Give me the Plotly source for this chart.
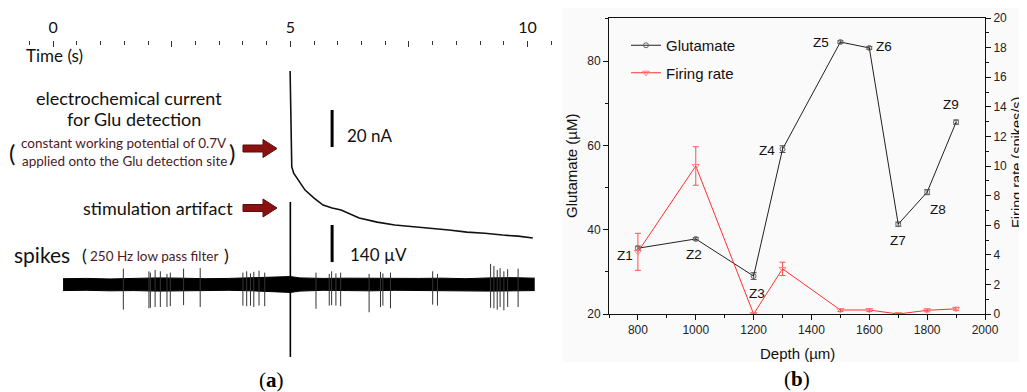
import plotly.graph_objects as go

W, H = 1027, 392
OFF = 8  # page body margin: figure is drawn 8 px right/down in the window
def px(x): return (x - OFF) / W
def py(y): return 1 - (y - OFF) / H

# ---------------- panel (a) data ----------------
# electrochemical current (relative, nA) after stimulation
current_t = [4.995, 5.01, 5.03, 5.07, 5.20, 5.31, 5.50, 5.69, 5.88, 6.07, 6.45, 6.83, 7.20, 7.58, 7.96, 8.34, 8.72, 9.10, 9.47, 9.80, 10.11]
current_nA = [90.3, 53.0, 38.4, 35.1, 29.7, 25.9, 21.6, 17.8, 16.2, 15.1, 10.8, 8.6, 7.0, 6.2, 5.4, 4.3, 3.2, 2.6, 1.6, 1.0, 0.0]

# spike recording: noise envelope (µV)
noise_t = [0.21, 0.7, 1.2, 1.7, 2.2, 2.7, 3.2, 3.7, 4.2, 4.7, 5.0, 5.2, 5.7, 6.2, 6.7, 7.2, 7.7, 8.2, 8.7, 9.2, 9.7, 10.15]
noise_hi = [22, 23, 21, 24, 25, 24, 22, 23, 26, 27, 30, 25, 23, 24, 23, 22, 23, 24, 22, 25, 26, 24]
noise_lo = [-23, -22, -24, -23, -25, -24, -23, -22, -24, -26, -30, -25, -22, -23, -24, -22, -23, -22, -24, -25, -24, -23]

# individual spikes: time (s), positive and negative peak (µV)
spike_t = [1.48, 2.02, 2.05, 2.15, 2.26, 2.40, 2.47, 2.75, 3.10, 4.00, 4.08, 4.16, 4.23, 4.34, 4.46,
           5.54, 5.82, 5.87, 5.96, 6.06, 6.66, 6.90, 6.95, 7.11, 8.00, 8.10,
           9.22, 9.29, 9.36, 9.42, 9.50, 9.58, 9.80]
spike_up = [60, 50, 45, 55, 50, 40, 45, 60, 62, 45, 50, 42, 48, 52, 45,
            45, 40, 50, 42, 45, 40, 48, 42, 45, 50, 40,
            78, 70, 55, 62, 50, 58, 60]
spike_dn = [-95, -90, -88, -85, -85, -85, -82, -78, -85, -80, -82, -80, -85, -80, -82,
            -92, -80, -78, -80, -82, -105, -85, -80, -90, -76, -80,
            -88, -90, -95, -85, -98, -85, -85]

# stimulation artifact on the spike channel (µV)
artifact_t = 5.0
artifact_uV = [312, -274]

# scale bars
bar_nA = 20
bar_uV = 140

time_ticks = [0, 2.5, 5, 7.5, 10]
time_ticktext = ["0", "", "5", "", "10"]

# ---------------- panel (b) data ----------------
depth_um = [800, 1000, 1200, 1300, 1500, 1600, 1700, 1800, 1900]
zone_labels = ["Z1", "Z2", "Z3", "Z4", "Z5", "Z6", "Z7", "Z8", "Z9"]
glutamate_uM = [35.6, 37.8, 29.0, 59.1, 84.5, 83.1, 41.3, 48.9, 65.5]
glutamate_err = [0.5, 0.3, 0.8, 0.8, 0.3, 0.3, 0.5, 0.6, 0.5]
firing_rate = [4.2, 10.0, 0.0, 3.05, 0.27, 0.27, 0.0, 0.25, 0.35]
firing_err = [1.25, 1.3, 0.0, 0.45, 0.1, 0.1, 0.0, 0.1, 0.1]

# label offsets (pixels) for the zone labels
label_dx = [-13, -2, 3, -16, -19, 15, 0, 11, -5]
label_dy = [-7, -16, -17, -1, 0, 1, -16, -17, 18]

# ---------------- pixel mapping for panel (a) ----------------
T0_PX, PX_PER_S = 53.1, 47.45
XA_DOM = [0, 0.55]
xa_range = [(OFF - T0_PX) / PX_PER_S, (OFF + XA_DOM[1] * W - T0_PX) / PX_PER_S]
NA_ZERO_PX, PX_PER_NA = 238, 1.85
ya_cur_range = [-(OFF + H - NA_ZERO_PX) / PX_PER_NA, (NA_ZERO_PX - OFF) / PX_PER_NA]
UV_ZERO_PX, PX_PER_UV = 284.5, 37 / 140
ya_spk_range = [-(OFF + H - UV_ZERO_PX) / PX_PER_UV, (UV_ZERO_PX - OFF) / PX_PER_UV]
BAR_T = 5.88

fig = go.Figure()

# current trace
fig.add_trace(go.Scatter(x=current_t, y=current_nA, mode="lines", xaxis="x2", yaxis="y3",
                         line=dict(color="#111", width=1.6), showlegend=False, hoverinfo="skip"))
# current scale bar
fig.add_trace(go.Scatter(x=[BAR_T, BAR_T], y=[69.2, 69.2 - bar_nA], mode="lines", xaxis="x2", yaxis="y3",
                         line=dict(color="#000", width=3), showlegend=False, hoverinfo="skip"))
# noise band
fig.add_trace(go.Scatter(x=noise_t, y=noise_lo, mode="lines", xaxis="x2", yaxis="y4",
                         line=dict(color="#000", width=1), showlegend=False, hoverinfo="skip"))
fig.add_trace(go.Scatter(x=noise_t, y=noise_hi, mode="lines", xaxis="x2", yaxis="y4", fill="tonexty",
                         fillcolor="#000", line=dict(color="#000", width=1), showlegend=False, hoverinfo="skip"))
# spikes
sx, sy = [], []
for t, u, d in zip(spike_t, spike_up, spike_dn):
    sx += [t, t, None]
    sy += [u, d, None]
fig.add_trace(go.Scatter(x=sx, y=sy, mode="lines", xaxis="x2", yaxis="y4",
                         line=dict(color="#333", width=1), showlegend=False, hoverinfo="skip"))
# artifact
fig.add_trace(go.Scatter(x=[artifact_t, artifact_t], y=artifact_uV, mode="lines", xaxis="x2", yaxis="y4",
                         line=dict(color="#000", width=1.6), showlegend=False, hoverinfo="skip"))
# spike scale bar
fig.add_trace(go.Scatter(x=[BAR_T, BAR_T], y=[225, 225 - bar_uV], mode="lines", xaxis="x2", yaxis="y4",
                         line=dict(color="#000", width=3), showlegend=False, hoverinfo="skip"))

# ---------------- panel (b) traces ----------------
fig.add_trace(go.Scatter(x=depth_um, y=glutamate_uM, name="Glutamate", mode="lines+markers",
                         xaxis="x", yaxis="y", legendgroup="g1",
                         line=dict(color="#222", width=1),
                         marker=dict(symbol="circle-open", size=5, color="#666", line=dict(width=1)),
                         error_y=dict(type="data", array=glutamate_err, color="#555", thickness=1, width=3)))
fig.add_trace(go.Scatter(x=depth_um, y=firing_rate, name="Firing rate", mode="lines+markers",
                         xaxis="x", yaxis="y2", legendgroup="g2",
                         line=dict(color="#ff3030", width=1),
                         marker=dict(symbol="triangle-down-open", size=6, color="#ff8080", line=dict(width=1)),
                         error_y=dict(type="data", array=firing_err, color="#ff5050", thickness=1, width=3)))

ann = []
for lab, x, y, dx, dy in zip(zone_labels, depth_um, glutamate_uM, label_dx, label_dy):
    ann.append(dict(x=x, y=y, xref="x", yref="y", text=lab, showarrow=False, xshift=dx, yshift=dy,
                    font=dict(family="Liberation Sans", size=13.5, color="#111")))

def txt(x, y, s, size, color="#111", family="Lato", xanchor="center", angle=0):
    ann.append(dict(x=px(x), y=py(y), xref="paper", yref="paper", text=s, showarrow=False,
                    xanchor=xanchor, yanchor="middle", textangle=angle,
                    font=dict(family=family, size=size, color=color)))

# panel (a) texts
txt(54.5, 55, "Time (s)", 17)
txt(129, 98, "electrochemical current", 18)
txt(133.5, 119, "for Glu detection", 18)
txt(124, 143, "constant working potential of 0.7V", 13.5, "#4d1a26")
txt(124, 161, "applied onto the Glu detection site", 13.5, "#4d1a26")
txt(11.5, 152, "(", 24)
txt(232, 152, ")", 24)
txt(157.5, 208, "stimulation artifact", 18)
txt(42, 255, "spikes", 21)
txt(84, 255, "(", 18)
txt(153.5, 256, "250 Hz low pass filter", 13.5, "#4d1a26")
txt(226, 255, ")", 18)
txt(345, 136, "20 nA", 17, xanchor="left")
txt(348, 255, "140 µV", 17, xanchor="left")
txt(271, 380, "(<b>a</b>)", 21, "#000", "Liberation Serif")
txt(797, 379, "(<b>b</b>)", 21, "#000", "Liberation Serif")
# panel (b) axis titles
txt(571, 166, "Glutamate (µM)", 15, "#111", "Liberation Sans", angle=-90)
txt(1017, 163, "Firing rate (spikes/s)", 14.5, "#111", "Liberation Sans", angle=-90)
txt(797, 353, "Depth (µm)", 15, "#111", "Liberation Sans")

# block arrows
def arrow(yc):
    x0, xh, xt = 243, 263, 277
    pts = [(x0, yc - 3.5), (xh, yc - 3.5), (xh, yc - 9), (xt, yc), (xh, yc + 9), (xh, yc + 3.5), (x0, yc + 3.5)]
    path = "M " + " L ".join(f"{px(a):.5f},{py(b):.5f}" for a, b in pts) + " Z"
    return dict(type="path", path=path, xref="paper", yref="paper",
                fillcolor="#8b1111", line=dict(color="#5e0a0a", width=1))

shapes = [
    dict(type="rect", xref="paper", yref="paper", x0=px(563), x1=1, y0=py(362), y1=1,
         fillcolor="#fafafa", line=dict(width=0), layer="below"),
    arrow(148.5), arrow(208),
]

tickfont_b = dict(family="Liberation Sans", size=12, color="#222")

fig.update_layout(
    width=W, height=H, margin=dict(l=0, r=0, t=0, b=0, pad=0, autoexpand=False),
    paper_bgcolor="white", plot_bgcolor="rgba(0,0,0,0)",
    showlegend=True,
    legend=dict(x=px(626), y=py(29), xanchor="left", yanchor="top", bgcolor="rgba(0,0,0,0)",
                font=dict(family="Liberation Sans", size=15, color="#111"),
                traceorder="grouped", tracegroupgap=5, itemwidth=30),
    annotations=ann, shapes=shapes,
    xaxis=dict(domain=[px(609), px(985)], range=[700, 2000], anchor="y", automargin=False,
               showline=True, linecolor="#111", linewidth=1, mirror=True,
               ticks="outside", ticklen=5, tickcolor="#111", tick0=800, dtick=200,
               minor=dict(ticks="outside", ticklen=3, dtick=100, tickcolor="#111"),
               showgrid=False, zeroline=False, tickfont=tickfont_b),
    yaxis=dict(domain=[py(314), py(18)], range=[20, 90.2], anchor="x", automargin=False,
               showline=True, linecolor="#111", linewidth=1,
               ticks="outside", ticklen=5, tickcolor="#111", tick0=20, dtick=20,
               minor=dict(ticks="outside", ticklen=3, dtick=10, tickcolor="#111"),
               showgrid=False, zeroline=False, tickfont=tickfont_b),
    yaxis2=dict(overlaying="y", side="right", anchor="x", range=[0, 20], automargin=False,
                showline=True, linecolor="#111", linewidth=1,
                ticks="outside", ticklen=5, tickcolor="#111", tick0=0, dtick=2,
                minor=dict(ticks="outside", ticklen=3, dtick=1, tickcolor="#111"),
                showgrid=False, zeroline=False, tickfont=tickfont_b),
    xaxis2=dict(domain=XA_DOM, range=xa_range, anchor="free", position=py(40), side="top", automargin=False,
                showline=False, showgrid=False, zeroline=False,
                tickmode="array", tickvals=time_ticks, ticktext=time_ticktext,
                ticks="inside", ticklen=6, tickcolor="#333", tickwidth=1,
                minor=dict(ticks="inside", ticklen=4, dtick=0.5, tick0=0, tickcolor="#333"),
                tickfont=dict(family="Lato", size=16, color="#111"), ticklabelstandoff=4),
    yaxis3=dict(domain=[0, 1], range=ya_cur_range, anchor="x2", visible=False, automargin=False),
    yaxis4=dict(domain=[0, 1], range=ya_spk_range, anchor="x2", overlaying="y3", visible=False, automargin=False),
)

fig.write_html("out.html")
